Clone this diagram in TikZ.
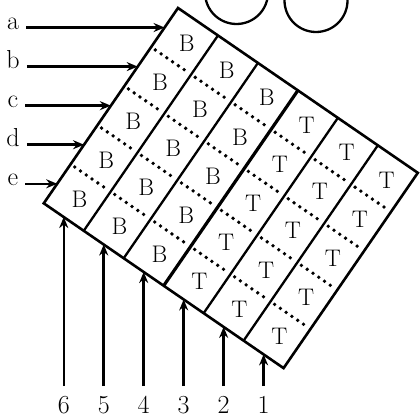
\documentclass[tikz,border=0pt]{standalone}
\usepackage{tikz}
\usetikzlibrary{arrows.meta,calc}

\begin{document}
\begin{tikzpicture}[x=1pt,y=1pt,
  g/.style={line width=2.3pt},
  d/.style={line width=3.8pt,line cap=round,dash pattern=on 0pt off 7pt},
  a/.style={-{Stealth[length=11pt,width=9pt]},line width=2.5pt},
  l/.style={font=\fontsize{26}{26}\selectfont,inner sep=2pt},
  c/.style={font=\fontsize{24}{24}\selectfont,inner sep=0pt}]
\useasboundingbox (0,0) rectangle (420,418);
\begin{scope}
\clip (0,0) rectangle (420,418);
\draw[g] (236.5,425.5) circle (31.5);
\draw[g] (316,417.5) circle (31.5);
\end{scope}
\begin{scope}[shift={(178,410)},rotate=-34.5]
\draw[g,line width=2.6pt] (0,0) rectangle (291,-237);
\foreach \k in {1,2,4,5} \draw[g] (\k*48.5,0) -- (\k*48.5,-237);
\draw[g,line width=3.2pt] (3*48.5,0) -- (3*48.5,-237);
\foreach \k in {0,...,5} \foreach \r in {1,...,4}
  \draw[d] (\k*48.5+5,-\r*47.4) -- (\k*48.5+43.5,-\r*47.4);
\foreach \k/\t in {0/B,1/B,2/B,3/T,4/T,5/T} \foreach \r in {0,...,4}
  \node[c] (c\k\r) at (\k*48.5+27,-\r*47.4-23.7) {\t};
\foreach \r/\n in {0/a,1/b,2/c,3/d,4/e}
  \coordinate (e\n) at (0,-\r*47.4-23.7);
\foreach \k/\n in {0/6,1/5,2/4,3/3,4/2,5/1}
  \coordinate (e\n) at (\k*48.5+24.25,-237);
\end{scope}
\coordinate (lx) at (13,0);
\coordinate (ly) at (0,13);
\foreach \n in {a,b,c,d,e}{
  \node[l,anchor=mid] (l\n) at (e\n -| lx) {\n};
  \draw[a,shorten <=5pt] (l\n.mid east) -- (e\n);
}
\foreach \n in {6,5,4,3,2,1}{
  \node[l] (l\n) at (e\n |- ly) {\n};
  \draw[a,shorten <=8pt] (l\n.north) -- (e\n);
}
\end{tikzpicture}
\end{document}
